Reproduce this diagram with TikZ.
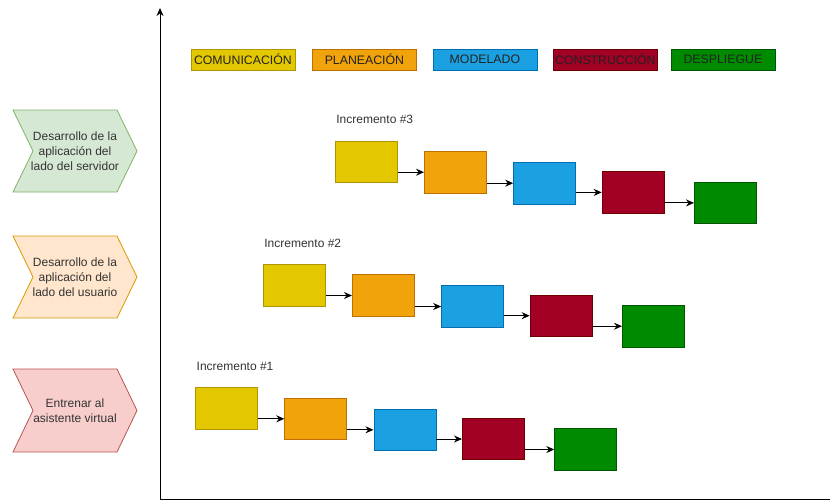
\documentclass[tikz,border=0pt]{standalone}
\usepackage{fontspec}
\setmainfont{Liberation Sans}
\usetikzlibrary{arrows.meta}
\definecolor{yelF}{HTML}{E3C800}\definecolor{yelS}{HTML}{B09500}
\definecolor{oraF}{HTML}{F0A30A}\definecolor{oraS}{HTML}{BD7000}
\definecolor{bluF}{HTML}{1BA1E2}\definecolor{bluS}{HTML}{006EAF}
\definecolor{redF}{HTML}{A20025}\definecolor{redS}{HTML}{6F0000}
\definecolor{grnF}{HTML}{008A00}\definecolor{grnS}{HTML}{005700}
\definecolor{chgF}{HTML}{D5E8D4}\definecolor{chgS}{HTML}{82B366}
\definecolor{choF}{HTML}{FFE6CC}\definecolor{choS}{HTML}{D79B00}
\definecolor{chrF}{HTML}{F8CECC}\definecolor{chrS}{HTML}{B85450}
\definecolor{txt}{HTML}{333333}
\definecolor{legtxt}{HTML}{222222}
\tikzset{
  txtstyle/.style={font=\fontsize{12}{15}\selectfont, text=txt},
  legbox/.style={font=\fontsize{12.3}{15}\selectfont, text=legtxt, draw, line width=0.8pt, minimum width=104pt, minimum height=21pt, inner sep=0pt, anchor=north west},
  incbox/.style={draw, line width=0.8pt, minimum width=62pt, minimum height=41.6pt, inner sep=0pt, anchor=north west},
  conn/.style={line width=1pt, -{Stealth[length=8pt,width=7pt]}},
  chev/.style={line width=0.8pt},
  chevtext/.style={txtstyle, align=center, inner sep=0pt},
  inclabel/.style={txtstyle, anchor=west, inner sep=0pt}
}
\begin{document}
\begin{tikzpicture}[x=1pt,y=-1pt]
\useasboundingbox (0,0) rectangle (830,501);
% axes
\coordinate (origin) at (160,499);
\coordinate (ytop) at (160,8);
\coordinate (xend) at (830,499);
\draw[line width=1pt, -{Stealth[length=8pt,width=7pt]}] (origin) -- (ytop);
\draw[line width=1pt] (origin) -- (xend);
% legend
\node[legbox, fill=yelF, draw=yelS] (lc) at (190.5,48.5) {COMUNICACIÓN};
\node[legbox, fill=oraF, draw=oraS] (lp) at (312,48.5) {PLANEACIÓN};
\node[legbox, fill=bluF, draw=bluS] (lm) at (432.5,48.5) {MODELADO};
\node[legbox, fill=redF, draw=redS] (lk) at (553,48.5) {CONSTRUCCIÓN};
\node[legbox, fill=grnF, draw=grnS] (ld) at (670.5,48.5) {DESPLIEGUE};
% chevrons
\draw[chev, fill=chgF, draw=chgS] (13,110) -- (117,110) -- (137,151) -- (117,192) -- (13,192) -- (33,151) -- cycle;
\node[chevtext] (ch3) at (75,151) {Desarrollo de la\\aplicación del\\lado del servidor};
\draw[chev, fill=choF, draw=choS] (13,236) -- (117,236) -- (137,277) -- (117,318) -- (13,318) -- (33,277) -- cycle;
\node[chevtext] (ch2) at (75,277) {Desarrollo de la\\aplicación del\\lado del usuario};
\draw[chev, fill=chrF, draw=chrS] (13,369) -- (117,369) -- (137,410.5) -- (117,452) -- (13,452) -- (33,410.5) -- cycle;
\node[chevtext] (ch1) at (75,410.5) {Entrenar al\\asistente virtual};
% increments
\foreach \n/\x/\y in {3/334.7/140.7, 2/262.7/264, 1/195/387.3}{
  \node[inclabel] (lab\n) at (\x+1.5,\y-21) {Incremento \#\n};
  \node[incbox, fill=yelF, draw=yelS] (c\n) at (\x,\y) {};
  \node[incbox, fill=oraF, draw=oraS] (p\n) at (\x+89.3,\y+10.3) {};
  \node[incbox, fill=bluF, draw=bluS] (m\n) at (\x+178.5,\y+21.3) {};
  \node[incbox, fill=redF, draw=redS] (k\n) at (\x+267,\y+30.5) {};
  \node[incbox, fill=grnF, draw=grnS] (d\n) at (\x+359.3,\y+41) {};
  \draw[conn] (c\n.east |- p\n.west) -- (p\n.west);
  \draw[conn] (p\n.east |- m\n.west) -- (m\n.west);
  \draw[conn] (m\n.east |- k\n.west) -- (k\n.west);
  \draw[conn] (k\n.east |- d\n.west) -- (d\n.west);
}
\end{tikzpicture}
\end{document}
